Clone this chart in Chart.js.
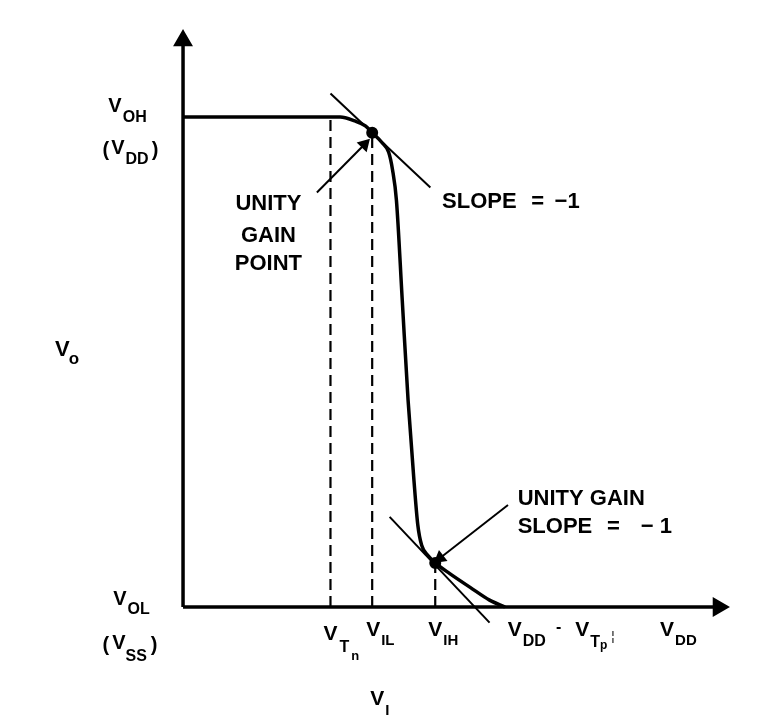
<!DOCTYPE html>
<html>
<head>
<meta charset="utf-8">
<script src="https://cdn.jsdelivr.net/npm/chart.js@4.4.0/dist/chart.umd.min.js"></script>
<style>
  body { margin: 0; background: #fff; }
  canvas { display: block; }
</style>
</head>
<body>
<canvas id="vtc" width="766" height="724"></canvas>
<script>
// inverter transfer curve, V_O against V_I (V_DD taken as 5)
const vIn  = [0, 1.62, 1.77, 1.88, 1.95, 2.05, 2.12, 2.16, 2.20, 2.26, 2.32, 2.38, 2.42, 2.46, 2.53, 2.60, 2.75, 2.96, 3.16, 3.32];
const vOut = [5, 5, 4.96, 4.91, 4.84, 4.74, 4.64, 4.46, 4.15, 3.13, 2.11, 1.30, 0.84, 0.63, 0.52, 0.45, 0.34, 0.20, 0.07, 0];

// slope = -1 tangents
const tanHighX = [1.52, 2.55], tanHighY = [5.24, 4.28];
const tanLowX  = [2.13, 3.16], tanLowY  = [0.92, -0.16];

// unity gain points
const unityX = [1.95, 2.60], unityY = [4.84, 0.45];

// dashed drop lines: V_Tn, V_IL, V_IH
const dropX = [1.52, 1.95, 2.60], dropTop = [5, 4.84, 0.45];

// x tick labels
const tickPos = [1.52, 1.96, 2.60, 3.42, 4.99];
const tickNames = ["V_Tn", "V_IL", "V_IH", "V_DD - V_Tp", "V_DD"];

const axisXEnd = 5.52, axisYEnd = 5.78;

function line(xs, ys, opts) {
  return Object.assign({
    data: xs.map((x, i) => ({ x: x, y: ys[i] })),
    showLine: true, borderColor: "#000", borderWidth: 2,
    pointRadius: 0, fill: false
  }, opts);
}

const datasets = [
  line([0, axisXEnd], [0, 0], { borderWidth: 3.5, pointStyle: "triangle", pointRadius: [0, 8], pointRotation: 90, backgroundColor: "#000" }),
  line([0, 0], [0, axisYEnd], { borderWidth: 3.5, pointStyle: "triangle", pointRadius: [0, 8], backgroundColor: "#000" }),
  line(vIn, vOut, { borderWidth: 3.5, cubicInterpolationMode: "monotone" }),
  line(tanHighX, tanHighY, {}),
  line(tanLowX, tanLowY, {}),
  // annotation arrows
  line([1.38, 1.87], [4.23, 4.72], { pointStyle: "triangle", pointRadius: [0, 6], pointRotation: 44, backgroundColor: "#000" }),
  line([3.35, 2.65], [1.04, 0.50], { pointStyle: "triangle", pointRadius: [0, 6], pointRotation: 232, backgroundColor: "#000" }),
  line(unityX, unityY, { showLine: false, pointRadius: 5, backgroundColor: "#000" })
];
dropX.forEach((x, i) => {
  datasets.push(line([x, x], [0, dropTop[i]], { borderDash: [11, 6], borderWidth: 2.2 }));
});

const FONT = "'Liberation Sans', Arial, sans-serif";

// draws a run of pieces; parts = [[text, size, dy, gapAfter], ...]
function runText(ctx, x, y, parts) {
  parts.forEach(p => {
    ctx.font = "bold " + p[1] + "px " + FONT;
    ctx.fillText(p[0], x, y + p[2]);
    x += ctx.measureText(p[0]).width + (p[3] || 0);
  });
  return x;
}

const labelPlugin = {
  id: "labels",
  afterDatasetsDraw(chart) {
    const ctx = chart.ctx;
    const sx = chart.scales.x, sy = chart.scales.y;
    const X = v => sx.getPixelForValue(v), Y = v => sy.getPixelForValue(v);
    ctx.save();
    ctx.fillStyle = "#000";
    ctx.textBaseline = "alphabetic";
    ctx.textAlign = "left";

    // y axis labels
    runText(ctx, X(-0.77), Y(5.05), [["V", 20, 0, 1], ["OH", 16, 10]]);
    runText(ctx, X(-0.83), Y(4.6), [["(", 20, 0, 2], ["V", 20, -2, 1], ["DD", 16, 8, 3], [")", 20, 0]]);
    runText(ctx, X(-0.72), Y(0.02), [["V", 20, 0, 1], ["OL", 16, 9]]);
    runText(ctx, X(-0.83), Y(-0.45), [["(", 20, 0, 3], ["V", 20, -2, 0], ["SS", 16, 10, 4], [")", 20, 0]]);
    runText(ctx, X(-1.32), Y(2.56), [["V", 22, 0, -1], ["o", 17, 8]]);

    // x tick labels
    ctx.font = "bold 21px " + FONT;
    const vw = ctx.measureText("V").width;
    tickNames.forEach((name, i) => {
      const x0 = X(tickPos[i]) - vw / 2;
      const base = Y(-0.3);
      if (name === "V_Tn") {
        runText(ctx, x0, base + 4, [["V", 21, 0, 2], ["T", 16, 12, 2], ["n", 13, 20]]);
      } else if (name === "V_DD - V_Tp") {
        let x = runText(ctx, x0, base, [["V", 21, 0, 1], ["DD", 16, 10, 10], ["-", 16, -4, 14], ["V", 21, 0, 1], ["T", 16, 11, 0], ["p", 12, 13, 4]]);
        ctx.font = "13px " + FONT;
        ctx.fillText("¦", x, base + 4);
      } else {
        const s = name.split("_");
        runText(ctx, x0, base, [[s[0], 21, 0, 1], [s[1], 15, 9]]);
      }
    });
    runText(ctx, X(1.93), Y(-1.0), [["V", 21, 0, 1], ["I", 15, 10]]);

    // annotations
    ctx.font = "bold 22px " + FONT;
    ctx.textAlign = "center";
    ctx.fillText("UNITY", X(0.88), Y(4.05));
    ctx.fillText("GAIN", X(0.88), Y(3.72));
    ctx.fillText("POINT", X(0.88), Y(3.44));
    ctx.textAlign = "left";
    ctx.fillText("SLOPE", X(2.67), Y(4.07));
    ctx.fillText("=", X(3.59), Y(4.07));
    ctx.fillText("\u22121", X(3.83), Y(4.07));
    ctx.fillText("UNITY GAIN", X(3.45), Y(1.04));
    ctx.fillText("SLOPE", X(3.45), Y(0.76));
    ctx.fillText("=", X(4.37), Y(0.76));
    ctx.fillText("\u2212 1", X(4.72), Y(0.76));
    ctx.restore();
  }
};

new Chart(document.getElementById("vtc"), {
  type: "scatter",
  data: { datasets: datasets },
  options: {
    responsive: false,
    animation: false,
    layout: { padding: 0, autoPadding: false },
    plugins: { legend: { display: false }, tooltip: { enabled: false } },
    scales: {
      x: { type: "linear", display: false, min: -1.887, max: 6.010 },
      y: { type: "linear", display: false, min: -1.194, max: 6.194 }
    }
  },
  plugins: [labelPlugin]
});
</script>
</body>
</html>
